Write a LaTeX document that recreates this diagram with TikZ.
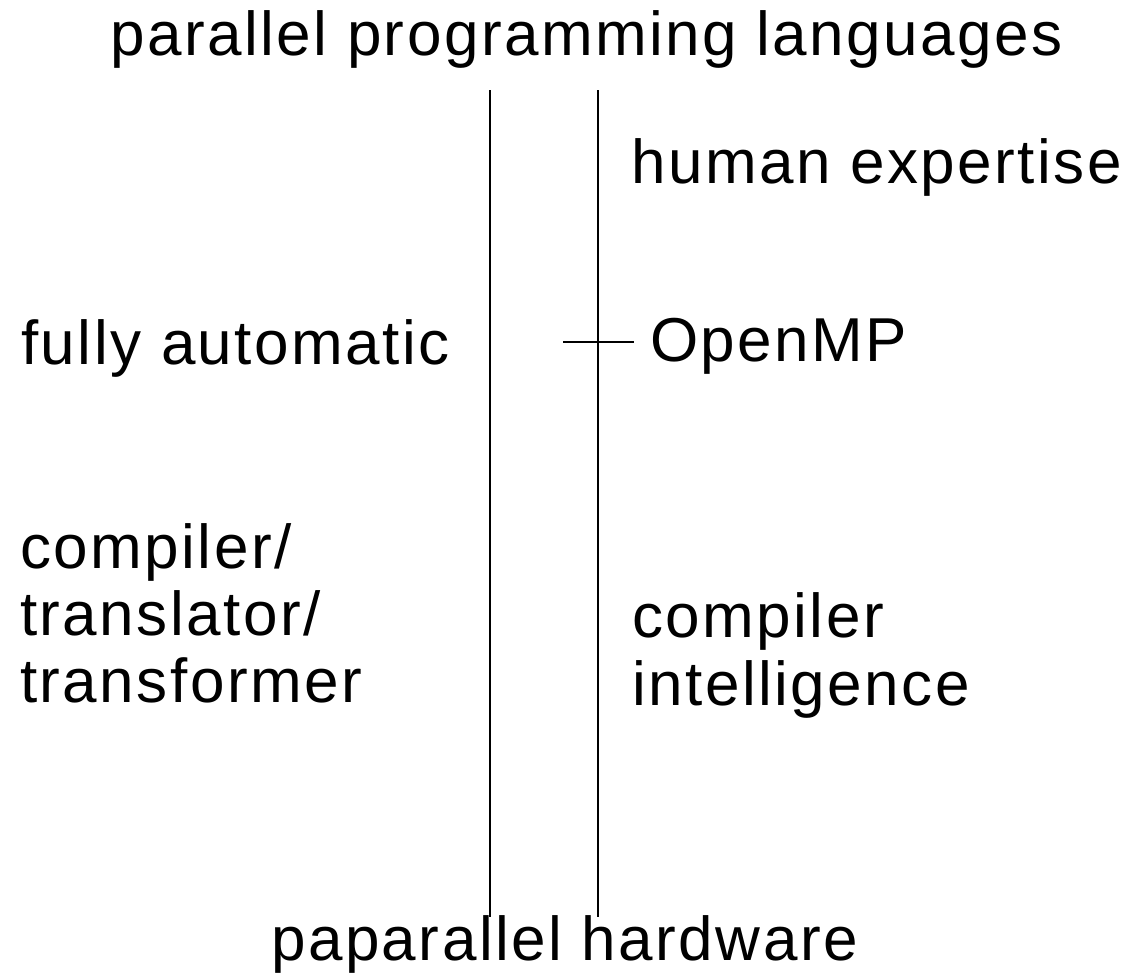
\documentclass[tikz,border=0pt]{standalone}
\usepackage{fontspec}
\setmainfont{Liberation Sans}[LetterSpace=4.0]
\begin{document}
\begin{tikzpicture}[x=1pt,y=-1pt,
  lbl/.style={inner sep=0pt,anchor=base west,font=\fontsize{62}{62}\selectfont},
  rule/.style={line width=2pt,black}]
\useasboundingbox (0,0) rectangle (1131,978);
\node[lbl] (top) at (110,55) {parallel programming languages};
\node[lbl] (human) at (631,183) {human expertise};
\node[lbl] (auto) at (21,364) {fully automatic};
\node[lbl] (omp) at (650,361) {OpenMP};
\node[lbl] (c1) at (20,568) {compiler/};
\node[lbl] (c2) at (20,635) {translator/};
\node[lbl] (c3) at (20,702) {transformer};
\node[lbl] (i1) at (632,637) {compiler};
\node[lbl] (i2) at (632,705) {intelligence};
\node[lbl] (bottom) at (271,960) {paparallel hardware};
\coordinate (lt) at (490,90);
\coordinate (lb) at (490,917);
\coordinate (rt) at (598,90);
\coordinate (rb) at (598,917);
\coordinate (tl) at (563,342);
\coordinate (tr) at (634,342);
\draw[rule] (lt) -- (lb);
\draw[rule] (rt) -- (rb);
\draw[rule] (tl) -- (tr);
\end{tikzpicture}
\end{document}
